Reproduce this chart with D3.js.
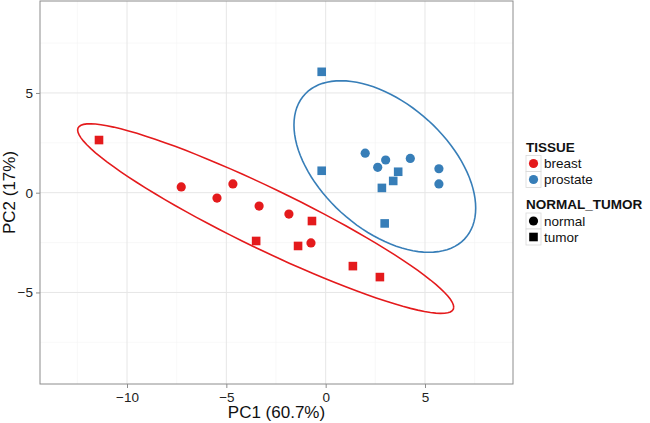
<!DOCTYPE html>
<html><head><meta charset="utf-8">
<script src="https://cdn.jsdelivr.net/npm/d3@7"></script>
<style>
html,body{margin:0;padding:0;background:#fff;}
text{font-family:"Liberation Sans",Arial,sans-serif;}
</style></head>
<body><svg id="chart" width="650" height="423"></svg>
<script>
// ---- data ----
const tissue = ["breast","breast","breast","breast","breast","breast","breast","breast","breast","breast","breast","breast",
                "prostate","prostate","prostate","prostate","prostate","prostate","prostate","prostate","prostate","prostate","prostate","prostate"];
const normalTumor = ["tumor","normal","normal","normal","normal","tumor","normal","tumor","tumor","normal","tumor","tumor",
                     "tumor","tumor","normal","normal","normal","normal","tumor","tumor","tumor","normal","normal","tumor"];
const pc1 = [-11.41,-7.27,-5.47,-4.67,-3.35,-3.50,-1.85,-0.69,-1.39,-0.74,1.37,2.73,
             -0.20,-0.20,1.99,3.02,2.62,4.26,3.65,3.40,2.83,5.70,5.70,2.97];
const pc2 = [2.64,0.29,-0.27,0.44,-0.67,-2.42,-1.07,-1.42,-2.67,-2.52,-3.68,-4.23,
             6.06,1.10,1.98,1.64,1.27,1.72,1.05,0.59,0.24,1.20,0.44,-1.54];
const tissueLevels = ["breast","prostate"];
const ntLevels = ["normal","tumor"];
const xTicks = [-10,-5,0,5];
const yTicks = [-5,0,5];
const xLabel = "PC1 (60.7%)";
const yLabel = "PC2 (17%)";
const ellipseProb = 0.95;

const colors = {breast:"#E41A1C", prostate:"#377EB8"};

const svg = d3.select("#chart");
const L = 40, R = 513, T = 1, B = 384;
const x = d3.scaleLinear().domain([-14.38, 9.43]).range([L, R]);
const y = d3.scaleLinear().domain([-9.59, 9.61]).range([B, T]);

// grid
const xMinor = [-12.5,-7.5,-2.5,2.5,7.5], yMinor = [-7.5,-2.5,2.5,7.5];
const g = svg.append("g");
g.selectAll(".xmin").data(xMinor).enter().append("line")
  .attr("x1",d=>x(d)).attr("x2",d=>x(d)).attr("y1",T).attr("y2",B).attr("stroke","#f4f4f4").attr("stroke-width",0.6);
g.selectAll(".ymin").data(yMinor).enter().append("line")
  .attr("y1",d=>y(d)).attr("y2",d=>y(d)).attr("x1",L).attr("x2",R).attr("stroke","#f4f4f4").attr("stroke-width",0.6);
g.selectAll(".xmaj").data(xTicks).enter().append("line")
  .attr("x1",d=>x(d)).attr("x2",d=>x(d)).attr("y1",T).attr("y2",B).attr("stroke","#e6e6e6").attr("stroke-width",1);
g.selectAll(".ymaj").data(yTicks).enter().append("line")
  .attr("y1",d=>y(d)).attr("y2",d=>y(d)).attr("x1",L).attr("x2",R).attr("stroke","#e6e6e6").attr("stroke-width",1);

// ---- normal-theory ellipse (sample covariance, chi-square radius) ----
function covNorm(pts){
  const n = pts.length;
  const m = [d3.mean(pts,d=>d[0]), d3.mean(pts,d=>d[1])];
  let c11=0,c12=0,c22=0;
  pts.forEach(d=>{const a=d[0]-m[0], b=d[1]-m[1]; c11+=a*a; c12+=a*b; c22+=b*b;});
  return {center:m, cov:[[c11/(n-1),c12/(n-1)],[c12/(n-1),c22/(n-1)]]};
}
function ellipsePts(pts, prob, segments=100){
  const v = covNorm(pts);
  const radius = Math.sqrt(-2*Math.log(1-prob)); // sqrt(qchisq(prob, 2))
  const a = Math.sqrt(v.cov[0][0]), b = v.cov[0][1]/a, c = Math.sqrt(v.cov[1][1]-b*b);
  const out = [];
  for(let k=0;k<=segments;k++){
    const ang = k*2*Math.PI/segments;
    const cs = Math.cos(ang), sn = Math.sin(ang);
    out.push([v.center[0]+radius*cs*a, v.center[1]+radius*(cs*b+sn*c)]);
  }
  return out;
}
const line = d3.line().x(d=>x(d[0])).y(d=>y(d[1]));
tissueLevels.forEach(t=>{
  const pts = pc1.map((v,i)=>[v,pc2[i],tissue[i]]).filter(d=>d[2]===t).map(d=>[d[0],d[1]]);
  svg.append("path").attr("d", line(ellipsePts(pts, ellipseProb))).attr("fill","none")
    .attr("stroke", colors[t]).attr("stroke-width",1.6);
});

// points
const pts = pc1.map((v,i)=>({x:v,y:pc2[i],t:tissue[i],nt:normalTumor[i]}));
const sq = 8.6, rad = 4.6;
pts.forEach(d=>{
  if(d.nt==="normal"){
    svg.append("circle").attr("cx",x(d.x)).attr("cy",y(d.y)).attr("r",rad).attr("fill",colors[d.t]);
  } else {
    svg.append("rect").attr("x",x(d.x)-sq/2).attr("y",y(d.y)-sq/2).attr("width",sq).attr("height",sq).attr("fill",colors[d.t]);
  }
});

// panel border
svg.append("rect").attr("x",L).attr("y",T).attr("width",R-L).attr("height",B-T)
  .attr("fill","none").attr("stroke","#8c8c8c").attr("stroke-width",1);

// axes
const fmt = d=>d<0?"\u2212"+Math.abs(d):d;
const ax = svg.append("g").attr("transform",`translate(0,${B})`)
  .call(d3.axisBottom(x).tickValues(xTicks).tickSize(4).tickPadding(4).tickFormat(fmt));
const ay = svg.append("g").attr("transform",`translate(${L},0)`)
  .call(d3.axisLeft(y).tickValues(yTicks).tickSize(4).tickPadding(3).tickFormat(fmt));
[ax,ay].forEach(a=>{
  a.select(".domain").remove();
  a.selectAll(".tick line").attr("stroke","#8c8c8c");
  a.selectAll(".tick text").attr("fill","#222").style("font-size","13.5px").style("font-family","Liberation Sans, Arial, sans-serif");
});

svg.append("text").attr("x",(L+R)/2).attr("y",418).attr("text-anchor","middle")
  .style("font-size","17px").attr("fill","#111").text(xLabel);
svg.append("text").attr("transform",`translate(15,${(T+B)/2}) rotate(-90)`).attr("text-anchor","middle")
  .style("font-size","17px").attr("fill","#111").text(yLabel);

// legend
const lx = 526, kw = 15;
function legend(title, y0, items, draw){
  svg.append("text").attr("x",lx).attr("y",y0).style("font-size","13.5px").style("font-weight","bold").attr("fill","#111").text(title);
  items.forEach((it,i)=>{
    const ky = y0 + 4 + i*16;
    svg.append("rect").attr("x",lx).attr("y",ky).attr("width",kw).attr("height",16)
      .attr("fill","#fff").attr("stroke","#d9d9d9").attr("stroke-width",0.8);
    draw(it, lx+kw/2, ky+8);
    svg.append("text").attr("x",lx+kw+3).attr("y",ky+12.5).style("font-size","13.5px").attr("fill","#111").text(it);
  });
}
legend("TISSUE", 151.5, tissueLevels, (it,cx,cy)=>{
  svg.append("circle").attr("cx",cx).attr("cy",cy).attr("r",rad).attr("fill",colors[it]);
});
legend("NORMAL_TUMOR", 209, ntLevels, (it,cx,cy)=>{
  if(it==="normal") svg.append("circle").attr("cx",cx).attr("cy",cy).attr("r",rad).attr("fill","#000");
  else svg.append("rect").attr("x",cx-sq/2).attr("y",cy-sq/2).attr("width",sq).attr("height",sq).attr("fill","#000");
});
</script></body></html>
